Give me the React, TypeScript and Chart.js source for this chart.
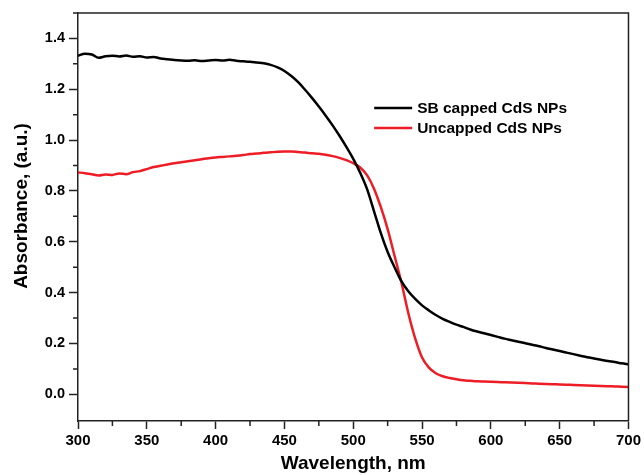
import React, { useEffect, useRef } from "react";
import { Chart, registerables } from "chart.js";

Chart.register(...registerables);

const wavelengths = [
  300, 305, 310, 315, 320, 325, 330, 335, 340, 345, 350, 355, 360, 365, 370, 375, 380, 385, 390, 395,
  400, 405, 410, 415, 420, 425, 430, 435, 440, 445, 450, 455, 460, 465, 470, 475, 480, 485, 490, 495,
  500, 505, 510, 515, 520, 525, 530, 535, 540, 545, 550, 555, 560, 565, 570, 575, 580, 585, 590, 595,
  600, 605, 610, 615, 620, 625, 630, 635, 640, 645, 650, 655, 660, 665, 670, 675, 680, 685, 690, 695,
  700,
];

const sbCapped = [
  1.332, 1.34, 1.337, 1.324, 1.33, 1.332, 1.329, 1.333, 1.328, 1.33, 1.325, 1.327, 1.321, 1.318, 1.315, 1.313, 1.312, 1.314, 1.311, 1.313,
  1.315, 1.313, 1.316, 1.312, 1.31, 1.308, 1.305, 1.302, 1.296, 1.286, 1.272, 1.252, 1.228, 1.198, 1.166, 1.132, 1.096, 1.058, 1.017, 0.973,
  0.926, 0.872, 0.808, 0.722, 0.635, 0.56, 0.5, 0.445, 0.405, 0.375, 0.35, 0.33, 0.312, 0.297, 0.285, 0.274, 0.265, 0.255, 0.247, 0.24,
  0.233, 0.226, 0.219, 0.213, 0.207, 0.201, 0.195, 0.189, 0.182, 0.176, 0.17, 0.164, 0.158, 0.152, 0.146, 0.141, 0.136, 0.131, 0.127, 0.122,
  0.118,
];

const uncapped = [
  0.873, 0.87, 0.866, 0.861, 0.865, 0.863, 0.869, 0.866, 0.874, 0.878, 0.886, 0.894, 0.899, 0.904, 0.909, 0.913, 0.917, 0.921, 0.925, 0.929,
  0.932, 0.934, 0.936, 0.938, 0.941, 0.945, 0.947, 0.95, 0.952, 0.954, 0.955, 0.955, 0.953, 0.951, 0.948, 0.946, 0.942, 0.937, 0.93, 0.921,
  0.909, 0.892, 0.862, 0.81, 0.737, 0.65, 0.545, 0.44, 0.32, 0.22, 0.145, 0.105, 0.083, 0.071, 0.064, 0.059, 0.055, 0.053, 0.051, 0.05,
  0.049, 0.048, 0.047, 0.046, 0.045, 0.044, 0.043, 0.042, 0.041, 0.04, 0.039, 0.038, 0.037, 0.036, 0.035, 0.034, 0.033, 0.032, 0.031, 0.03,
  0.029,
];

const seriesNames = ["SB capped CdS NPs", "Uncapped CdS NPs"];
const seriesColors = ["#000000", "#ee1c24"];

const xMajorTicks = [300, 350, 400, 450, 500, 550, 600, 650, 700];
const xMinorTicks = [325, 375, 425, 475, 525, 575, 625, 675];
const yMajorTicks = [0.0, 0.2, 0.4, 0.6, 0.8, 1.0, 1.2, 1.4];
const yMinorTicks = [0.1, 0.3, 0.5, 0.7, 0.9, 1.1, 1.3, 1.5];

const xTitle = "Wavelength, nm";
const yTitle = "Absorbance, (a.u.)";

const FONT = "'Liberation Sans', Arial, sans-serif";
const AXIS_COLOR = "#222222";

const framePlugin = {
  id: "frameAndMinor",
  afterDraw(chart: any) {
    const { ctx, chartArea, scales } = chart;
    const { left, right, top, bottom } = chartArea;
    ctx.save();
    ctx.strokeStyle = AXIS_COLOR;
    ctx.lineWidth = 1.5;
    ctx.beginPath();
    ctx.moveTo(left, top);
    ctx.lineTo(right, top);
    ctx.lineTo(right, bottom);
    ctx.stroke();
    // minor ticks
    ctx.beginPath();
    for (const v of xMinorTicks) {
      const px = scales.x.getPixelForValue(v);
      ctx.moveTo(px, bottom);
      ctx.lineTo(px, bottom + 5);
    }
    for (const v of yMinorTicks) {
      const py = scales.y.getPixelForValue(v);
      ctx.moveTo(left, py);
      ctx.lineTo(left - 5, py);
    }
    ctx.stroke();
    // y title
    ctx.save();
    ctx.translate(22, top + (bottom - top) * 0.473);
    ctx.rotate(-Math.PI / 2);
    ctx.font = `bold 19px ${FONT}`;
    ctx.fillStyle = "#000";
    ctx.textAlign = "center";
    ctx.textBaseline = "middle";
    ctx.fillText(yTitle, 0, 0);
    ctx.restore();
    // legend
    const lx0 = left + (right - left) * 0.538;
    const lx1 = lx0 + 38;
    const rows = [top + 95, top + 115];
    ctx.font = `bold 15.5px ${FONT}`;
    ctx.textBaseline = "middle";
    ctx.textAlign = "left";
    for (let i = 0; i < seriesNames.length; i++) {
      ctx.strokeStyle = seriesColors[i];
      ctx.lineWidth = 2.5;
      ctx.beginPath();
      ctx.moveTo(lx0, rows[i]);
      ctx.lineTo(lx1, rows[i]);
      ctx.stroke();
      ctx.fillStyle = "#000";
      ctx.fillText(seriesNames[i], lx1 + 5, rows[i] + 1);
    }
    ctx.restore();
  },
};

export default function App() {
  const ref = useRef<HTMLCanvasElement | null>(null);
  useEffect(() => {
    if (!ref.current) return;
    const chart = new Chart(ref.current, {
      type: "line",
      data: {
        datasets: [
          {
            label: seriesNames[0],
            data: wavelengths.map((w, i) => ({ x: w, y: sbCapped[i] })),
            borderColor: seriesColors[0],
            borderWidth: 2.5,
            pointRadius: 0,
            cubicInterpolationMode: "monotone",
          },
          {
            label: seriesNames[1],
            data: wavelengths.map((w, i) => ({ x: w, y: uncapped[i] })),
            borderColor: seriesColors[1],
            borderWidth: 2.5,
            pointRadius: 0,
            cubicInterpolationMode: "monotone",
          },
        ],
      },
      options: {
        animation: false,
        responsive: false,
        layout: { padding: { top: 13, right: 14, left: 0, bottom: 0 } },
        plugins: { legend: { display: false }, tooltip: { enabled: false } },
        scales: {
          x: {
            type: "linear",
            min: 300,
            max: 700,
            afterBuildTicks: (s: any) => {
              s.ticks = xMajorTicks.map((v) => ({ value: v }));
            },
            afterFit: (s: any) => {
              s.height = 54;
            },
            ticks: {
              color: "#000",
              font: { family: FONT, size: 15, weight: "bold" },
              padding: 3,
              maxRotation: 0,
              callback: (v: any) => String(v),
            },
            grid: {
              drawOnChartArea: false,
              drawTicks: true,
              tickLength: 8,
              tickColor: AXIS_COLOR,
              tickWidth: 1.5,
            },
            border: { display: true, color: AXIS_COLOR, width: 1.5 },
            title: {
              display: true,
              text: xTitle,
              color: "#000",
              font: { family: FONT, size: 19, weight: "bold" },
              padding: { top: 1, bottom: 0 },
            },
          },
          y: {
            type: "linear",
            min: -0.105,
            max: 1.5,
            afterBuildTicks: (s: any) => {
              s.ticks = yMajorTicks.map((v) => ({ value: v }));
            },
            afterFit: (s: any) => {
              s.width = 78;
            },
            ticks: {
              color: "#000",
              font: { family: FONT, size: 14.5, weight: "bold" },
              padding: 4,
              callback: (v: any) => Number(v).toFixed(1),
            },
            grid: {
              drawOnChartArea: false,
              drawTicks: true,
              tickLength: 9,
              tickColor: AXIS_COLOR,
              tickWidth: 1.5,
            },
            border: { display: true, color: AXIS_COLOR, width: 1.5 },
            title: { display: false },
          },
        },
      },
      plugins: [framePlugin],
    } as any);
    return () => chart.destroy();
  }, []);
  return (
    <div style={{ position: "absolute", left: 0, top: 0, width: 644, height: 475, background: "#fff" }}>
      <canvas ref={ref} width={644} height={475} />
    </div>
  );
}
